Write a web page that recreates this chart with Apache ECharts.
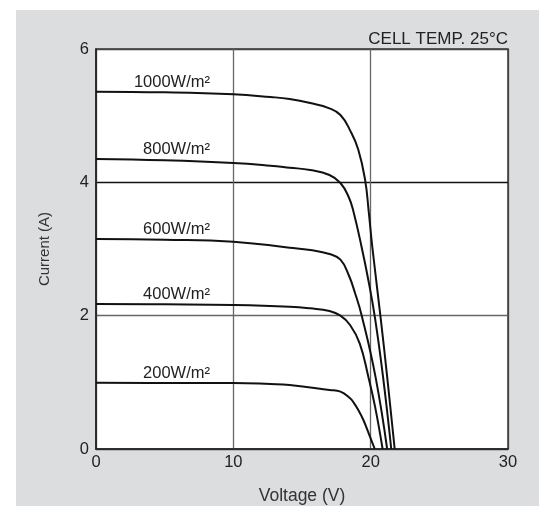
<!DOCTYPE html>
<html>
<head>
<meta charset="utf-8">
<script src="https://cdn.jsdelivr.net/npm/echarts@6/dist/echarts.min.js"></script>
<style>
html,body{margin:0;padding:0;background:#fff;}
#wrap{position:absolute;left:16px;top:10px;width:523px;height:496px;background:#dcdddf;}
#chart{position:absolute;left:0;top:0;width:539px;height:506px;}
</style>
</head>
<body>
<div id="wrap"></div>
<div id="chart"></div>
<script>
// Voltage (V) / Current (A) points, per irradiance
const irradianceLabels = ['1000W/m²', '800W/m²', '600W/m²', '400W/m²', '200W/m²'];
const v1000 = [0, 5, 10, 12.7, 14.1, 15.6, 17, 17.8, 18.5, 19.1, 19.6, 19.85, 20.12, 20.73, 21.2, 21.75];
const i1000 = [5.36, 5.35, 5.32, 5.28, 5.25, 5.19, 5.11, 5.01, 4.78, 4.49, 4.03, 3.58, 3.03, 1.96, 1.085, 0];
const v800 = [0, 5, 10, 12.7, 14.1, 15.6, 17, 17.8, 18.4, 18.75, 19.34, 19.83, 20.32, 20.9, 21.5];
const i800 = [4.35, 4.33, 4.29, 4.25, 4.22, 4.185, 4.11, 3.99, 3.78, 3.56, 3.03, 2.535, 1.96, 1.085, 0];
const v600 = [0, 5, 10, 14.1, 15.6, 17, 17.8, 18.4, 18.86, 19.35, 20.35, 21.2];
const i600 = [3.15, 3.14, 3.11, 3.02, 2.985, 2.925, 2.84, 2.61, 2.34, 2.0, 1.085, 0];
const v400 = [0, 5, 10, 14.1, 15.6, 17, 17.8, 18.5, 19.2, 19.83, 20.32, 20.87];
const i400 = [2.175, 2.17, 2.16, 2.135, 2.11, 2.07, 2.0, 1.86, 1.585, 1.085, 0.635, 0];
const v200 = [0, 5, 10, 12.7, 14.1, 17, 17.8, 18.5, 18.75, 19.1, 19.47, 19.95, 20.3];
const i200 = [0.995, 0.99, 0.99, 0.975, 0.96, 0.885, 0.86, 0.76, 0.7, 0.585, 0.435, 0.185, 0];
const xTicks = [0, 10, 20, 30];
const yTicks = [0, 2, 4, 6];
const noteText = 'CELL TEMP. 25°C';

const curves = [[v1000, i1000], [v800, i800], [v600, i600], [v400, i400], [v200, i200]];
const FONT = 'Liberation Sans, Arial, sans-serif';

const chart = echarts.init(document.getElementById('chart'), null, {renderer: 'canvas'});
const series = curves.map((c, k) => ({
  type: 'line',
  name: irradianceLabels[k],
  data: c[0].map((v, j) => [v, c[1][j]]),
  showSymbol: false,
  smooth: 0.45,
  lineStyle: {color: '#111', width: 2},
  silent: true,
  z: 5
}));

chart.setOption({
  animation: false,
  backgroundColor: 'transparent',
  grid: {left: 96, top: 49, right: 31, bottom: 57, outerBoundsMode: 'none', containLabel: false, show: true, backgroundColor: '#fff', borderColor: '#333', borderWidth: 1.5},
  xAxis: {
    type: 'value', min: xTicks[0], max: xTicks[xTicks.length - 1], interval: 10,
    name: 'Voltage (V)', nameLocation: 'middle', nameGap: 38,
    nameTextStyle: {fontFamily: FONT, fontSize: 17.5, color: '#333'},
    axisLine: {show: true, lineStyle: {color: '#222', width: 1.5}},
    axisTick: {show: false},
    axisLabel: {fontFamily: FONT, fontSize: 16.5, color: '#222', margin: 5},
    splitLine: {show: true, lineStyle: {color: ['#444', '#666', '#666', '#444'], width: 1.3}}
  },
  yAxis: {
    type: 'value', min: yTicks[0], max: yTicks[yTicks.length - 1], interval: 2,
    name: 'Current (A)', nameLocation: 'middle', nameGap: 44,
    nameTextStyle: {fontFamily: FONT, fontSize: 15, color: '#333'},
    axisLine: {show: true, lineStyle: {color: '#222', width: 1.5}},
    axisTick: {show: false},
    axisLabel: {fontFamily: FONT, fontSize: 16.5, color: '#222', margin: 7},
    splitLine: {show: true, lineStyle: {color: ['#444', '#666', '#111', '#444'], width: 1.3}}
  },
  series: series
});

const labelV = 8.3;
const graphics = curves.map((c, k) => {
  const p = chart.convertToPixel({gridIndex: 0}, [labelV, c[1][0]]);
  return {
    type: 'text', x: p[0], y: p[1] - 1, silent: true, z: 10,
    style: {text: irradianceLabels[k], fontFamily: FONT, fontSize: 16.5, fill: '#222', align: 'right', verticalAlign: 'bottom'}
  };
});
const tr = chart.convertToPixel({gridIndex: 0}, [xTicks[xTicks.length - 1], yTicks[yTicks.length - 1]]);
graphics.push({
  type: 'text', x: tr[0], y: tr[1] - 1, silent: true, z: 10,
  style: {text: noteText, fontFamily: FONT, fontSize: 17, fill: '#222', align: 'right', verticalAlign: 'bottom'}
});
chart.setOption({graphic: graphics});
</script>
</body>
</html>
